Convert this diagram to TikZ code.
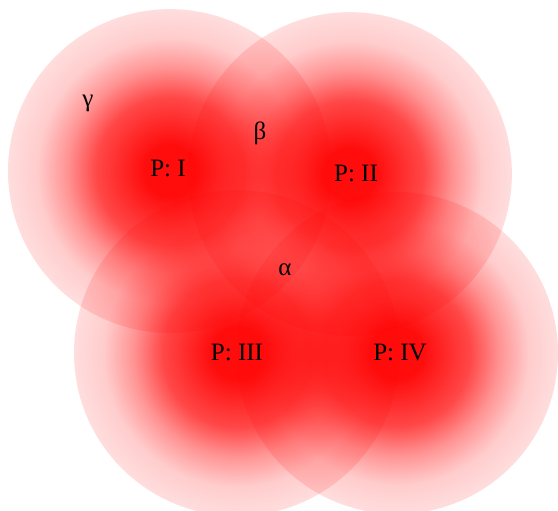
\documentclass[tikz,border=0pt]{standalone}
\usepackage{fontspec}
\setmainfont{Liberation Serif}
\usetikzlibrary{positioning,fadings}
% solid in the middle, nearly clear at the rim
\pgfdeclareradialshading{glowmask}{\pgfpointorigin}{%
  color(0bp)=(white!95!black); color(3.5bp)=(white!95!black);
  color(10bp)=(white!72!black); color(14bp)=(white!42!black);
  color(18bp)=(white!20!black); color(22bp)=(white!13!black);
  color(50bp)=(white!13!black)}
\begin{tikzfadingfrompicture}[name=glow]
  \shade[shading=glowmask] (0,0) circle (1cm);
\end{tikzfadingfrompicture}
\tikzset{
  zone/.style={circle, inner sep=0pt, minimum size=324pt, fill=red,
    path fading=glow}, % one area of the diagram
}

\begin{document}
\begin{tikzpicture}[x=1pt,y=-1pt,tag/.style={font=\fontsize{25}{30}\selectfont, inner sep=0pt}]
    \useasboundingbox (0,0) rectangle (558,511);
    \node[zone] (zone_i) at (170,171) {};
    \node[zone] (zone_ii) at (350,174) {};
    \node[zone, minimum size=326pt] (zone_iii) at (237,353) {};
    \node[zone, minimum size=322pt] (zone_iv) at (397,353) {};

    \node[tag] (p_i) at (168,168) {P: I};
    \node[tag] (p_ii) at (356,173) {P: II};
    \node[tag] (p_iii) at (237,352) {P: III};
    \node[tag] (p_iv) at (400,353) {P: IV};

    \node[tag] (gamma) at (88,103) {γ};
    \node[tag] (beta) at (260,133) {β};
    \node[tag] (alpha) at (285,270) {α};
  \end{tikzpicture}
\end{document}
